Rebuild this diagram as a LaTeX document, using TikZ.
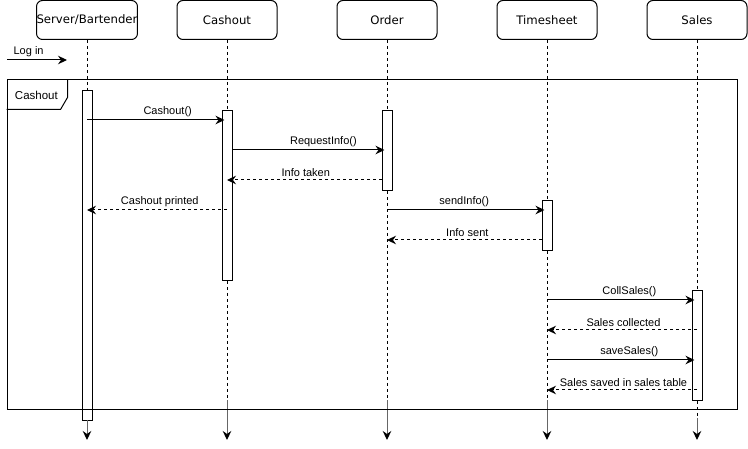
\documentclass[tikz,border=0pt]{standalone}
\usepackage{fontspec}
\setmainfont{Liberation Sans}
\newfontfamily\headfont{DejaVu Sans}
\usetikzlibrary{arrows.meta, positioning, calc}
\tikzset{
  every picture/.style={x=1pt, y=-1pt, line width=1pt, font=\fontsize{11}{13}\selectfont},
  head/.style={draw, rounded corners=6pt, minimum width=100pt, minimum height=39pt, inner sep=0pt, font=\headfont\fontsize{11.7}{14}\selectfont},
  act/.style={draw, fill=white, minimum width=10pt, inner sep=0pt, anchor=north},
  life/.style={line width=0.9pt, dash pattern=on 3pt off 3pt},
  lifeend/.style={draw=black!60, -{Stealth[length=9pt, width=8.5pt, inset=3pt, black]}},
  call/.style={-{Stealth[length=9pt, width=8.5pt, inset=3pt]}, shorten >=-3pt},
  reply/.style={call, shorten >=0pt, dash pattern=on 3pt off 3pt},
  lbl/.style={above, inner sep=2.5pt},
  frame/.style={draw, minimum width=730pt, minimum height=330pt, inner sep=0pt},
}
\begin{document}
\begin{tikzpicture}
  \useasboundingbox (0,0) rectangle (748,449);
  \foreach \n/\x/\t/\b/\h/\e in {srv/87/{Server/Bartender}/90/330/420, cash/227/Cashout/110/170/400,
     ord/387/Order/110/80/400, time/547/Timesheet/200/50/400, sales/697/Sales/290/110/418} {
    \node[head] (\n) at (\x,20) {\t};
    \node[act, minimum height=\h pt] (\n-act) at (\x,\b) {};
    \coordinate (\n-cut) at (\x,\e);
    \coordinate (\n-end) at (\x,440);
    \draw[life] (\n) -- (\n-act);
    \draw[life] (\n-act) -- (\n-cut);
    \draw[lifeend] (\n-cut) -- (\n-end);
  }
  % combined fragment
  \node[frame] (loop) at (372,245) {};
  \draw (loop.north west) ++(61,0) -- ++(0,18) -- ++(-7,12) -- ++(-54,0);
  \node[anchor=west, inner sep=0pt, font=\fontsize{11.5}{13}\selectfont] (loop-tag) at ([shift={(8,16)}]loop.north west) {Cashout};
  % messages
  \foreach \a/\b/\y/\p/\s/\t in {
     srv/cash-act.west/120/0.6/call/{Cashout()},
     cash-act.east/ord-act.west/150/0.61/call/{RequestInfo()},
     ord-act.west/cash/180/0.49/reply/{Info taken},
     cash/srv/210/0.48/reply/{Cashout printed},
     ord/time-act.west/210/0.5/call/{sendInfo()},
     time-act.west/ord/240/0.48/reply/{Info sent},
     time/sales-act.west/300/0.57/call/{CollSales()},
     sales/time/330/0.49/reply/{Sales collected},
     time/sales-act.west/360/0.57/call/{saveSales()},
     sales/time/390/0.49/reply/{Sales saved in sales table}} {
    \draw[\s] (\a |- 0,\y) -- node[lbl, pos=\p] {\t} (\b |- 0,\y);
  }
  \coordinate (login-s) at (7,60);
  \coordinate (login-e) at (67,60);
  \draw[call, shorten >=0pt] (login-s) -- node[lbl, pos=0.36] {Log in} (login-e);
\end{tikzpicture}
\end{document}
